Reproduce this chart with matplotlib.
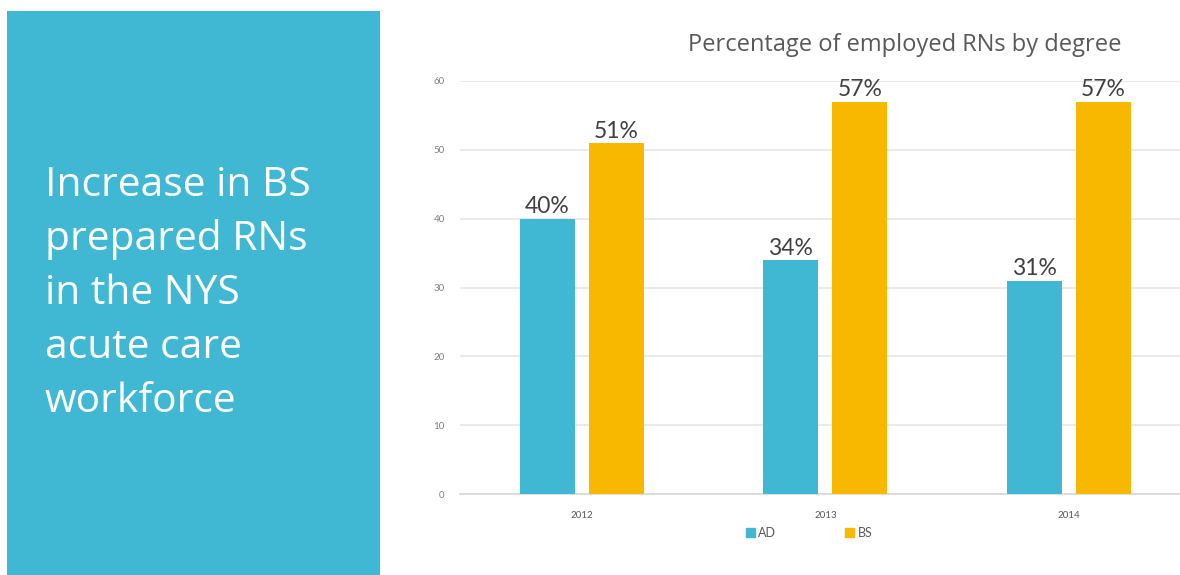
import matplotlib
matplotlib.use("Agg")
import matplotlib.pyplot as plt
import numpy as np
from matplotlib.patches import Rectangle

# ---- data ----
years = ["2012", "2013", "2014"]
ad_values = [40, 34, 31]
bs_values = [51, 57, 57]
series_names = ["AD", "BS"]
y_ticks = [0, 10, 20, 30, 40, 50, 60]
title = "Percentage of employed RNs by degree"
panel_lines = ["Increase in BS", "prepared RNs", "in the NYS", "acute care", "workforce"]

AD_COLOR = "#41B8D3"
BS_COLOR = "#F9B800"
PANEL_COLOR = "#41B8D3"

W, H = 1180, 575
fig = plt.figure(figsize=(W / 100, H / 100), dpi=100)
fig.patch.set_facecolor("white")

# left panel
fig.patches.append(Rectangle((7 / W, 0), (380 - 7) / W, (575 - 11) / H,
                             transform=fig.transFigure, facecolor=PANEL_COLOR,
                             edgecolor="none", zorder=0))
for i, line in enumerate(panel_lines):
    fig.text(45 / W, 1 - (186 + i * 54) / H, line, family="Open Sans",
             fontsize=29.3, color="white", ha="left", va="center")

# chart axes
ax = fig.add_axes([460 / W, 1 - 494 / H, (W - 460) / W, (494 - 81) / H])
x = np.arange(len(years))
bw = 0.226
off = 0.142
b1 = ax.bar(x - off, ad_values, bw, color=AD_COLOR, label=series_names[0], zorder=3)
b2 = ax.bar(x + off, bs_values, bw, color=BS_COLOR, label=series_names[1], zorder=3)

for bars, vals in ((b1, ad_values), (b2, bs_values)):
    ax.bar_label(bars, labels=[f"{v}%" for v in vals], padding=1,
                 family="Lato", fontsize=16.5, color="#404040")

ax.set_xlim(-0.5, (W - 582) / 243.5)
ax.set_ylim(0, 60)
ax.set_yticks(y_ticks)
ax.set_xticks(x)
ax.set_xticklabels(years)
ax.grid(axis="y", color="#E6E6E6", linewidth=1.2, zorder=0)
ax.set_axisbelow(True)
for s in ("top", "right", "left"):
    ax.spines[s].set_visible(False)
ax.spines["bottom"].set_color("#D9D9D9")
ax.spines["bottom"].set_linewidth(1.2)
ax.tick_params(axis="y", length=0, pad=11, labelsize=7, labelcolor="#7F7F7F")
ax.tick_params(axis="x", length=0, pad=12, labelsize=7, labelcolor="#595959")
for lbl in ax.get_xticklabels() + ax.get_yticklabels():
    lbl.set_family("Lato")

fig.text(905 / W, 1 - 45 / H, title, family="Open Sans", fontsize=17,
         color="#595959", ha="center", va="center")

handles = [Rectangle((0, 0), 1, 1, color=AD_COLOR), Rectangle((0, 0), 1, 1, color=BS_COLOR)]
leg = fig.legend(handles, series_names, loc="center", ncol=2,
                 bbox_to_anchor=(809 / W, 1 - 533 / H), frameon=False,
                 prop={"family": "Lato", "size": 9}, handlelength=0.7,
                 handleheight=0.7, handletextpad=0.3, columnspacing=5.5)
for t in leg.get_texts():
    t.set_color("#595959")

fig.savefig("out.png", dpi=100)
